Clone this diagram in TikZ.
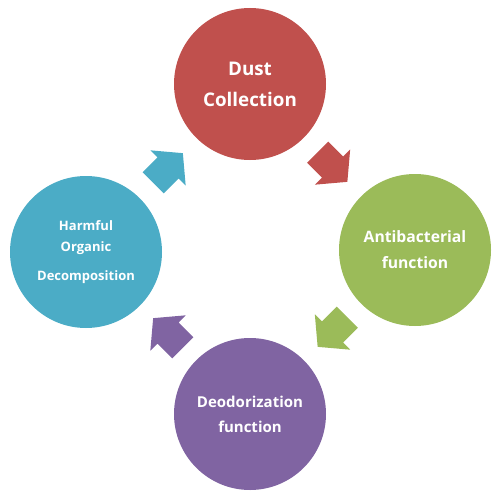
\documentclass[tikz,border=0pt]{standalone}
\usepackage{fontspec}
\setmainfont{Open Sans}
\usetikzlibrary{calc}
\definecolor{cred}{HTML}{C0504D}
\definecolor{cgreen}{HTML}{9BBB59}
\definecolor{cpurple}{HTML}{8064A2}
\definecolor{cteal}{HTML}{4BACC6}
\begin{document}
\begin{tikzpicture}[x=1pt,y=-1pt,
  bubble/.style={circle, minimum size=152pt, inner sep=0pt, text=white, align=center},
  pics/blockarrow/.style={code={\fill[#1] (-21,-15) -- (0,-15) -- (0,-25) -- (21,0) -- (0,25) -- (0,15) -- (-21,15) -- cycle;}}]
\useasboundingbox (0,0) rectangle (500,500);
\node[bubble, fill=cred, font=\fontsize{18.8}{31}\selectfont\bfseries] (dust) at (250,84) {Dust\\Collection};
\node[bubble, fill=cgreen, font=\fontsize{15.7}{26}\selectfont\bfseries] (anti) at (415,250) {Antibacterial\\function};
\node[bubble, fill=cpurple, font=\fontsize{15}{25}\selectfont\bfseries] (deo) at (250,414) {Deodorization\\function};
\node[bubble, fill=cteal, font=\fontsize{13}{21}\selectfont\bfseries] (harm) at (86,252) {Harmful\\Organic\\[8pt]Decomposition};
\pic[rotate=45] at ($(dust)!0.5!(harm)$) {blockarrow=cteal};
\pic[rotate=-45] at ($(dust)!0.5!(anti)$) {blockarrow=cred};
\pic[rotate=-135] at ($(anti)!0.5!(deo)$) {blockarrow=cgreen};
\pic[rotate=135] at ($(deo)!0.5!(harm)$) {blockarrow=cpurple};
\end{tikzpicture}
\end{document}
